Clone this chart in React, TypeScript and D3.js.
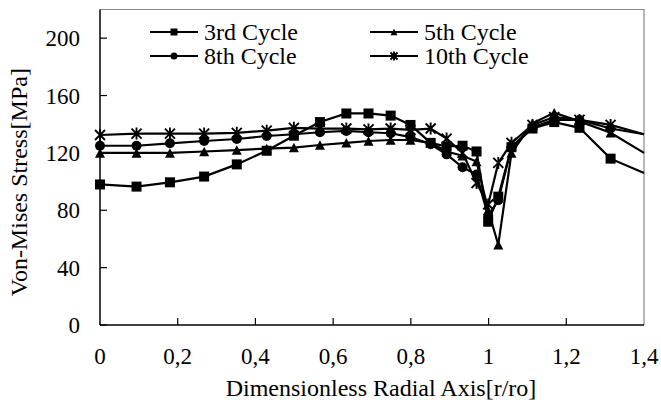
import React from 'react';
import * as d3 from 'd3';

// radial positions of the nodes (r/ro)
const radial = [0, 0.094, 0.18, 0.268, 0.352, 0.429, 0.499, 0.566, 0.634, 0.691, 0.748, 0.799, 0.851, 0.892, 0.933, 0.969, 0.999, 1.025, 1.059, 1.113, 1.169, 1.234, 1.314, 1.4];

// von mises stress per cycle [MPa]
const cycle3 = [98, 96.5, 99.5, 103.5, 112, 121.5, 132, 141.5, 147.5, 147.5, 146, 139.5, 127, 124.5, 125, 121, 72, 89.5, 124, 137, 141.5, 137.5, 116, 106];
const cycle5 = [120, 120, 120, 121, 122, 123, 123.7, 125.5, 127, 128.3, 129, 129, 127, 121, 118, 114, 80, 56, 120, 140.6, 148, 142, 134, 120];
const cycle8 = [125, 125, 126.7, 128.3, 129.7, 131.8, 133, 134.4, 135.3, 134.4, 133.7, 131, 126, 119, 110, 105, 76, 87, 124, 138, 143, 143, 137, 133];
const cycle10 = [132.5, 133.5, 133.5, 133.5, 134, 135.5, 137.5, 137, 137, 136.4, 137, 136, 137, 130, 120, 99, 84, 113, 127, 139.5, 145, 143, 139.5, 133];

const seriesNames = ['3rd Cycle', '5th Cycle', '8th Cycle', '10th Cycle'];
const seriesValues = [cycle3, cycle5, cycle8, cycle10];
const seriesMarkers = ['square', 'triangle', 'circle', 'star'];

const xTicks = [0, 0.2, 0.4, 0.6, 0.8, 1, 1.2, 1.4];
const yTicks = [0, 40, 80, 120, 160, 200];

const W = 661;
const H = 405;
const plot = { left: 100, right: 644, top: 9.5, bottom: 325 };
const font = '"Liberation Serif", "Times New Roman", serif';

function Marker({ kind, x, y, s }: { kind: string; x: number; y: number; s: number }) {
    if (kind === 'square') {
        return <rect x={x - s / 2} y={y - s / 2} width={s} height={s} fill="#000" />;
    }
    if (kind === 'circle') {
        return <circle cx={x} cy={y} r={s / 2} fill="#000" />;
    }
    if (kind === 'triangle') {
        const h = s * 0.95;
        return <path d={`M${x},${y - h / 2}L${x + s / 2},${y + h / 2}L${x - s / 2},${y + h / 2}Z`} fill="#000" />;
    }
    // asterisk: X plus vertical bar
    const a = s / 2;
    return (
        <path
            d={`M${x - a},${y - a}L${x + a},${y + a}M${x - a},${y + a}L${x + a},${y - a}M${x},${y - a - 1}L${x},${y + a + 1}`}
            stroke="#000"
            strokeWidth={1.9}
            fill="none"
        />
    );
}

export default function App() {
    const x = d3.scaleLinear().domain([0, 1.4]).range([plot.left, plot.right]);
    const y = d3.scaleLinear().domain([0, 220]).range([plot.bottom, plot.top]);
    const fmt = (d: number) => String(d).replace('.', ',');

    const line = d3.line<number>()
        .x((_, i) => x(radial[i]))
        .y(d => y(d));

    return (
        <svg width={W} height={H} style={{ position: 'absolute', left: 0, top: 0, background: '#fff' }} fontFamily={font}>
            <rect x={0} y={0} width={W} height={H} fill="#fff" />

            {/* plot frame: grey top/right */}
            <path d={`M${plot.left},${plot.top}H${plot.right}V${plot.bottom}`} stroke="#888" strokeWidth={1.2} fill="none" />

            {/* y axis */}
            <line x1={plot.left} x2={plot.left} y1={plot.top} y2={plot.bottom} stroke="#000" strokeWidth={1.5} />
            {yTicks.map(t => (
                <g key={t}>
                    <line x1={plot.left} x2={plot.left + 7} y1={y(t)} y2={y(t)} stroke="#000" strokeWidth={1.2} />
                    <text x={80} y={y(t)} dy="0.35em" textAnchor="end" fontSize={23}>{t}</text>
                </g>
            ))}

            {/* x axis */}
            <line x1={plot.left} x2={plot.right} y1={plot.bottom} y2={plot.bottom} stroke="#000" strokeWidth={1.5} />
            {xTicks.map(t => (
                <g key={t}>
                    {t > 0 && t < 1.4 && (
                        <line x1={x(t)} x2={x(t)} y1={plot.bottom} y2={plot.bottom - 7} stroke="#000" strokeWidth={1.2} />
                    )}
                    <text x={x(t)} y={364} textAnchor="middle" fontSize={23}>{fmt(t)}</text>
                </g>
            ))}

            <text x={381} y={396} textAnchor="middle" fontSize={24}>Dimensionless Radial Axis[r/ro]</text>
            <text transform={`translate(27,${(plot.top + plot.bottom) / 2 + 15}) rotate(-90)`} textAnchor="middle" fontSize={24}>
                Von-Mises Stress[MPa]
            </text>

            {/* series */}
            {seriesValues.map((vals, si) => (
                <g key={seriesNames[si]}>
                    <path d={line(vals) || ''} fill="none" stroke="#000" strokeWidth={2.2} />
                    {vals.map((v, i) =>
                        radial[i] < 1.4 ? (
                            <Marker key={i} kind={seriesMarkers[si]} x={x(radial[i])} y={y(v)} s={10} />
                        ) : null
                    )}
                </g>
            ))}

            {/* legend */}
            {seriesNames.map((name, si) => {
                const lx = si % 2 === 0 ? 150 : 370;
                const ly = si < 2 ? 32 : 56;
                return (
                    <g key={name}>
                        <line x1={lx} x2={lx + 48} y1={ly} y2={ly} stroke="#000" strokeWidth={2} />
                        <Marker kind={seriesMarkers[si]} x={lx + 24} y={ly} s={7} />
                        <text x={lx + 54} y={ly} dy="0.33em" fontSize={24}>{name}</text>
                    </g>
                );
            })}
        </svg>
    );
}
